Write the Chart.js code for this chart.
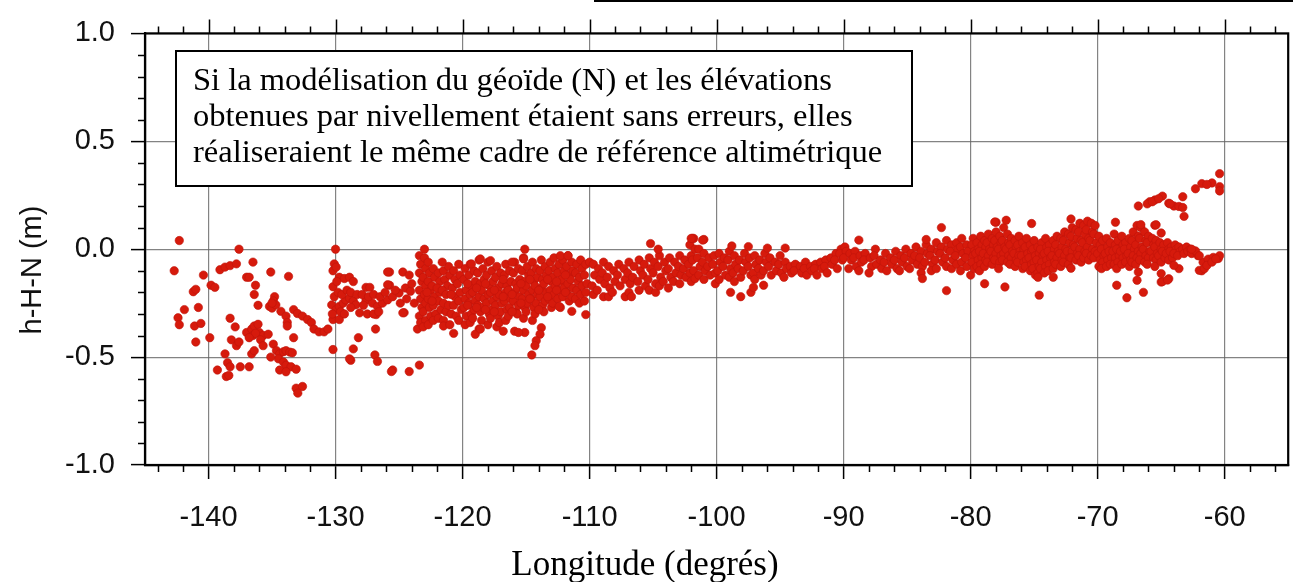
<!DOCTYPE html>
<html><head><meta charset="utf-8">
<script src="https://cdn.jsdelivr.net/npm/chart.js@4.4.1/dist/chart.umd.min.js"></script>
<style>html,body{margin:0;padding:0;background:#fff;overflow:hidden}canvas{display:block}</style>
</head><body>
<canvas id="c" width="1293" height="582"></canvas>
<script>
// ---------- tick labels ----------
const xTickValues = [-140,-130,-120,-110,-100,-90,-80,-70,-60];
const yTickValues = [-1.0,-0.5,0.0,0.5,1.0];
const annotationLines = [
  "Si la modélisation du géoïde (N) et les élévations",
  "obtenues par nivellement étaient sans erreurs, elles",
  "réaliseraient le même cadre de référence altimétrique"
];
const xTitle = "Longitude (degrés)";
const yTitle = "h-H-N (m)";

// ---------- data: [longitude, h-H-N] ----------
const westPoints = [
[-142.3,0.04],[-142.7,-0.10],[-137.6,0.0],[-140.4,-0.12],[-139.1,-0.095],[-138.7,-0.083],[-138.3,-0.076],[-137.8,-0.068],
[-136.5,-0.06],[-137.0,-0.13],[-136.8,-0.13],[-136.3,-0.167],[-136.4,-0.21],[-136.1,-0.26],[-139.8,-0.167],[-139.5,-0.177],
[-141.2,-0.197],[-141.0,-0.186],[-141.9,-0.28],[-140.8,-0.27],[-142.4,-0.318],[-142.3,-0.35],[-141.1,-0.356],[-140.6,-0.344],
[-141.0,-0.43],[-139.9,-0.41],[-138.3,-0.32],[-137.9,-0.36],[-138.2,-0.42],[-137.8,-0.447],[-137.6,-0.43],[-137.0,-0.386],
[-136.6,-0.37],[-136.4,-0.356],[-136.1,-0.348],[-136.5,-0.40],[-136.0,-0.386],[-135.7,-0.40],[-135.3,-0.394],[-136.3,-0.39],
[-136.8,-0.41],[-135.9,-0.42],[-136.6,-0.485],[-136.4,-0.47],[-135.7,-0.447],[-138.7,-0.485],[-138.5,-0.526],[-138.3,-0.545],
[-139.3,-0.56],[-138.6,-0.59],[-138.4,-0.585],[-137.5,-0.545],[-136.8,-0.545],[-135.1,-0.106],[-133.7,-0.126],[-134.8,-0.22],
[-134.9,-0.24],[-135.2,-0.265],[-135.0,-0.273],[-134.7,-0.258],[-135.0,-0.25],[-134.3,-0.288],[-133.9,-0.31],[-133.8,-0.34],
[-133.8,-0.356],[-133.3,-0.28],[-133.0,-0.298],[-132.6,-0.31],[-132.2,-0.326],[-131.9,-0.34],[-131.7,-0.37],[-131.3,-0.383],
[-130.9,-0.383],[-130.6,-0.37],[-133.3,-0.41],[-134.9,-0.44],[-134.65,-0.47],[-134.4,-0.485],[-134.1,-0.475],[-133.9,-0.47],
[-133.6,-0.477],[-133.4,-0.48],[-134.5,-0.508],[-134.1,-0.523],[-133.9,-0.538],[-133.5,-0.545],[-133.1,-0.556],[-134.4,-0.56],
[-133.9,-0.568],[-135.1,-0.50],[-133.1,-0.644],[-132.6,-0.636],[-132.97,-0.667],
[-130.0,0.0],[-130.1,-0.068],[-130.2,-0.10],[-129.95,-0.083],[-129.7,-0.13],[-129.3,-0.136],[-128.9,-0.13],[-128.6,-0.15],
[-130.2,-0.174],[-130.1,-0.22],[-130.3,-0.258],[-129.95,-0.28],[-129.7,-0.265],[-129.4,-0.25],[-129.2,-0.235],[-128.9,-0.227],
[-128.6,-0.24],[-128.4,-0.258],[-128.1,-0.295],[-130.2,-0.326],[-129.7,-0.326],[-130.2,-0.465],[-128.2,-0.41],[-128.6,-0.462],
[-128.8,-0.515],[-128.9,-0.508],[-127.6,-0.177],[-127.3,-0.177],[-127.6,-0.235],[-127.1,-0.25],[-126.7,-0.265],[-126.3,-0.25],
[-125.9,-0.235],[-125.5,-0.22],[-126.8,-0.303],[-126.85,-0.37],[-125.75,-0.106],[-125.75,-0.167],[-126.9,-0.49],[-126.7,-0.52],
[-125.5,-0.56],[-125.6,-0.567],[-124.2,-0.567],[-123.4,-0.537],[-123.55,-0.37],[-124.6,-0.294],[-124.5,-0.18],[-124.1,-0.195],
[-125.0,-0.203],[-125.9,-0.165],[-125.9,-0.106],[-124.7,-0.106],[-124.2,-0.12],[-124.7,-0.295],
[-129.8,-0.20],[-129.5,-0.21],[-129.1,-0.19],[-128.8,-0.20],[-129.6,-0.29],[-129.3,-0.30],[-128.8,-0.27],[-128.3,-0.21],
[-129.9,-0.15],[-130.25,-0.30],[-127.9,-0.21],[-127.8,-0.26],[-127.4,-0.22],[-127.0,-0.21],[-126.5,-0.22],[-126.1,-0.20],
[-125.3,-0.19],[-124.9,-0.25],[-124.4,-0.23],[-124.0,-0.16],[-123.8,-0.25],[-127.5,-0.30],[-127.0,-0.30],[-126.6,-0.29]
];

const centralPoints = [
// -123.5 .. -120
[-123.4,-0.03],[-123.3,-0.07],[-123.4,-0.11],[-123.2,-0.15],[-123.4,-0.19],[-123.3,-0.23],[-123.2,-0.27],[-123.4,-0.31],[-123.3,-0.34],
[-123.0,0.0],[-123.0,-0.04],[-122.9,-0.09],[-123.1,-0.13],[-122.9,-0.17],[-123.0,-0.21],[-122.9,-0.25],[-123.1,-0.29],[-122.9,-0.33],[-123.1,-0.36],
[-122.7,-0.06],[-122.6,-0.11],[-122.7,-0.15],[-122.5,-0.19],[-122.7,-0.23],[-122.6,-0.27],[-122.5,-0.31],[-122.7,-0.35],
[-122.3,-0.09],[-122.2,-0.13],[-122.4,-0.17],[-122.2,-0.22],[-122.3,-0.26],[-122.1,-0.30],[-122.3,-0.33],
[-121.9,-0.11],[-121.8,-0.15],[-121.8,-0.20],[-121.9,-0.24],[-121.7,-0.28],[-121.9,-0.32],
[-121.5,-0.10],[-121.4,-0.14],[-121.5,-0.25],[-121.3,-0.29],[-121.5,-0.33],[-121.5,-0.356],
[-121.1,-0.08],[-121.0,-0.12],[-121.2,-0.17],[-121.1,-0.26],[-120.9,-0.30],[-121.0,-0.35],
[-120.7,-0.10],[-120.6,-0.14],[-120.8,-0.18],[-120.6,-0.22],[-120.7,-0.26],[-120.5,-0.31],[-120.7,-0.39],
[-120.3,-0.07],[-120.2,-0.12],[-120.4,-0.16],[-120.2,-0.20],[-120.3,-0.24],[-120.1,-0.28],[-120.3,-0.33],
[-122.0,-0.18],[-121.6,-0.19],[-121.3,-0.21],[-120.9,-0.21],[-121.6,-0.06],[-122.8,-0.20],[-122.4,-0.24],
// -120 .. -110
[-119.8,-0.09],[-119.9,-0.14],[-119.7,-0.19],[-119.8,-0.23],[-119.9,-0.27],[-119.7,-0.31],[-119.8,-0.35],
[-119.4,-0.07],[-119.5,-0.12],[-119.3,-0.17],[-119.4,-0.21],[-119.5,-0.25],[-119.3,-0.30],[-119.4,-0.34],
[-119.1,-0.10],[-119.0,-0.15],[-119.2,-0.20],[-119.0,-0.24],[-119.1,-0.28],[-119.2,-0.32],
[-118.7,-0.05],[-118.8,-0.11],[-118.6,-0.16],[-118.7,-0.22],[-118.8,-0.26],[-118.6,-0.29],[-118.7,-0.37],
[-118.4,-0.09],[-118.3,-0.14],[-118.5,-0.19],[-118.3,-0.23],[-118.4,-0.27],[-118.5,-0.33],
[-118.0,-0.06],[-118.1,-0.12],[-117.9,-0.17],[-118.0,-0.21],[-118.1,-0.25],[-117.9,-0.30],[-118.0,-0.35],
[-117.7,-0.10],[-117.6,-0.15],[-117.8,-0.20],[-117.6,-0.24],[-117.7,-0.28],[-117.8,-0.32],
[-117.3,-0.08],[-117.4,-0.13],[-117.2,-0.18],[-117.3,-0.22],[-117.4,-0.26],[-117.2,-0.31],[-117.3,-0.36],
[-117.0,-0.11],[-116.9,-0.16],[-117.1,-0.21],[-116.9,-0.25],[-117.0,-0.29],[-117.1,-0.34],
[-116.6,-0.07],[-116.7,-0.12],[-116.5,-0.17],[-116.6,-0.20],[-116.7,-0.24],[-116.5,-0.28],[-116.6,-0.33],
[-116.3,-0.10],[-116.2,-0.15],[-116.4,-0.19],[-116.2,-0.23],[-116.3,-0.27],[-116.4,-0.31],
[-115.9,-0.06],[-116.0,-0.11],[-115.8,-0.16],[-115.9,-0.20],[-116.0,-0.24],[-115.8,-0.29],[-115.9,-0.38],
[-115.6,-0.09],[-115.5,-0.14],[-115.7,-0.18],[-115.5,-0.22],[-115.6,-0.26],[-115.7,-0.30],
[-115.2,-0.04],[-115.3,-0.10],[-115.1,-0.15],[-115.2,-0.19],[-115.3,-0.23],[-115.1,-0.27],[-115.2,-0.32],
[-114.9,-0.08],[-114.8,-0.12],[-115.0,-0.17],[-114.8,-0.21],[-114.9,-0.25],[-115.0,-0.29],
[-114.5,-0.06],[-114.6,-0.11],[-114.4,-0.15],[-114.5,-0.19],[-114.6,-0.23],[-114.4,-0.27],[-114.5,-0.33],
[-114.2,-0.09],[-114.1,-0.13],[-114.3,-0.17],[-114.1,-0.21],[-114.2,-0.25],[-114.3,-0.30],
[-113.8,-0.05],[-113.9,-0.10],[-113.7,-0.14],[-113.8,-0.18],[-113.9,-0.22],[-113.7,-0.26],
[-113.5,-0.08],[-113.4,-0.12],[-113.6,-0.16],[-113.4,-0.20],[-113.5,-0.24],[-113.6,-0.29],
[-113.1,-0.06],[-113.2,-0.10],[-113.0,-0.15],[-113.1,-0.19],[-113.2,-0.23],[-113.0,-0.27],
[-112.8,-0.04],[-112.7,-0.09],[-112.9,-0.13],[-112.7,-0.17],[-112.8,-0.21],[-112.9,-0.25],
[-112.4,-0.07],[-112.5,-0.11],[-112.3,-0.15],[-112.4,-0.19],[-112.5,-0.23],[-112.3,-0.27],
[-112.1,-0.05],[-112.0,-0.10],[-112.2,-0.14],[-112.0,-0.18],[-112.1,-0.22],
[-111.7,-0.03],[-111.8,-0.08],[-111.6,-0.12],[-111.7,-0.16],[-111.8,-0.20],[-111.6,-0.24],
[-111.4,-0.06],[-111.3,-0.10],[-111.5,-0.14],[-111.3,-0.18],[-111.4,-0.22],
[-111.0,-0.07],[-111.1,-0.11],[-110.9,-0.15],[-111.0,-0.19],[-111.1,-0.23],
[-110.7,-0.05],[-110.6,-0.09],[-110.8,-0.13],[-110.6,-0.17],[-110.7,-0.21],[-110.8,-0.25],
[-110.3,-0.07],[-110.4,-0.12],[-110.2,-0.16],[-110.3,-0.20],[-110.4,-0.24],
[-119.6,-0.16],[-119.6,-0.26],[-118.9,-0.18],[-118.9,-0.27],[-118.2,-0.16],[-118.2,-0.28],[-117.5,-0.19],[-117.5,-0.29],
[-116.8,-0.22],[-116.8,-0.14],[-116.1,-0.21],[-116.1,-0.29],[-115.4,-0.16],[-115.4,-0.25],[-114.7,-0.14],[-114.7,-0.23],
[-114.0,-0.19],[-114.0,-0.28],[-113.3,-0.14],[-113.3,-0.22],[-112.6,-0.19],[-112.6,-0.15],[-111.9,-0.12],[-111.9,-0.20],
[-119.0,-0.394],[-118.6,-0.37],[-115.1,0.0],[-115.2,-0.045],[-118.6,-0.045],[-117.8,-0.053],[-119.3,-0.068],[-116.1,-0.06],
[-113.8,-0.364],[-113.9,-0.394],[-114.2,-0.424],[-114.3,-0.447],[-114.55,-0.49],[-115.1,-0.386],[-115.6,-0.386],[-116.8,-0.38],
[-112.3,-0.03],[-111.7,-0.03],[-110.3,-0.303],[-111.4,-0.288],[-112.4,-0.265],[-110.0,-0.06],
// -110 .. -100
[-109.7,-0.07],[-109.6,-0.12],[-109.8,-0.17],[-109.7,-0.21],
[-109.3,-0.09],[-109.2,-0.14],[-109.4,-0.19],
[-108.9,-0.06],[-109.0,-0.11],[-108.8,-0.16],[-108.9,-0.22],
[-108.5,-0.08],[-108.6,-0.13],[-108.4,-0.18],[-108.5,-0.22],
[-108.1,-0.10],[-108.0,-0.15],[-108.2,-0.20],
[-107.7,-0.07],[-107.8,-0.12],[-107.6,-0.17],
[-107.3,-0.09],[-107.2,-0.14],[-107.2,-0.22],
[-106.9,-0.06],[-107.0,-0.11],[-106.8,-0.16],[-106.9,-0.20],
[-106.5,-0.08],[-106.6,-0.13],[-106.7,-0.22],
[-106.1,-0.05],[-106.0,-0.10],[-106.2,-0.15],[-106.1,-0.19],
[-105.7,-0.07],[-105.8,-0.12],[-105.6,-0.17],
[-105.3,-0.04],[-105.2,-0.09],[-105.4,-0.14],[-105.3,-0.19],
[-104.9,-0.06],[-105.0,-0.11],[-104.8,-0.16],[-104.8,-0.20],
[-104.5,-0.03],[-104.6,-0.08],[-104.4,-0.13],[-104.5,-0.17],
[-104.1,-0.06],[-104.0,-0.10],[-104.2,-0.15],
[-103.7,-0.04],[-103.8,-0.09],[-103.6,-0.13],[-103.8,-0.18],
[-103.3,-0.06],[-103.2,-0.11],[-103.4,-0.15],
[-102.9,-0.03],[-103.0,-0.08],[-102.8,-0.12],[-102.9,-0.16],
[-102.5,-0.05],[-102.6,-0.09],[-102.4,-0.13],
[-102.1,0.02],[-102.0,-0.03],[-102.2,-0.07],[-102.1,-0.11],[-102.0,-0.15],
[-101.8,0.05],[-101.7,0.0],[-101.9,-0.05],[-101.8,-0.10],[-101.7,-0.136],
[-101.4,0.0],[-101.5,-0.04],[-101.3,-0.08],[-101.4,-0.12],
[-101.0,-0.02],[-101.1,-0.06],[-100.9,-0.10],[-101.0,-0.14],
[-100.6,-0.04],[-100.7,-0.08],[-100.5,-0.12],[-100.1,-0.16],
[-100.2,-0.03],[-100.3,-0.07],[-100.1,-0.11],
[-105.2,0.026],[-104.6,0.0],[-101.9,0.05],[-101.0,0.045],[-102.0,0.05],[-101.1,0.042],
// -100 .. -90
[-99.8,-0.02],[-99.7,-0.06],[-99.9,-0.10],[-99.8,-0.14],
[-99.4,-0.04],[-99.5,-0.08],[-99.3,-0.12],
[-99.0,-0.01],[-99.1,-0.05],[-98.9,-0.09],[-99.0,-0.13],
[-98.6,-0.03],[-98.5,-0.07],[-98.7,-0.11],[-98.6,-0.15],
[-98.2,-0.05],[-98.3,-0.09],[-98.1,-0.13],
[-97.8,-0.02],[-97.7,-0.06],[-97.9,-0.10],
[-97.4,-0.04],[-97.5,-0.08],[-97.3,-0.12],
[-97.0,-0.03],[-96.9,-0.07],[-97.1,-0.11],[-97.0,-0.14],
[-96.6,-0.05],[-96.7,-0.09],[-96.5,-0.12],
[-96.2,-0.02],[-96.1,-0.06],[-96.3,-0.10],
[-95.8,-0.04],[-95.9,-0.08],[-95.7,-0.12],
[-95.4,-0.06],[-95.3,-0.10],
[-95.0,-0.03],[-95.1,-0.07],[-94.9,-0.11],
[-94.6,-0.06],[-94.5,-0.09],[-94.7,-0.13],
[-94.2,-0.08],[-94.1,-0.11],
[-93.8,-0.07],[-93.9,-0.10],
[-93.4,-0.08],[-93.3,-0.11],
[-93.0,-0.06],[-93.1,-0.09],[-92.9,-0.12],
[-92.6,-0.08],[-92.5,-0.10],
[-92.2,-0.07],[-92.3,-0.09],[-92.1,-0.12],
[-91.8,-0.06],[-91.7,-0.09],
[-91.4,-0.05],[-91.5,-0.08],[-91.3,-0.11],
[-91.0,-0.04],[-90.9,-0.07],
[-90.6,-0.02],[-90.7,-0.05],[-90.5,-0.09],
[-90.2,0.0],[-90.3,-0.02],[-90.1,-0.05],
[-89.9,0.01],[-89.8,-0.01],[-90.0,-0.04],
[-98.8,0.015],[-97.5,0.012],[-96.0,0.005],[-94.6,0.005],[-98.9,-0.20],[-97.3,-0.20],[-97.1,-0.177],[-96.3,-0.167],[-98.1,-0.22]
];

const eastPoints = [
// -90 .. -80
[-89.5,-0.02],[-89.4,-0.05],[-89.6,-0.09],
[-89.1,-0.01],[-89.2,-0.04],[-89.0,-0.08],
[-88.7,-0.03],[-88.6,-0.06],[-88.8,-0.10],
[-88.3,-0.02],[-88.4,-0.05],
[-87.9,-0.04],[-87.8,-0.08],[-88.0,-0.11],
[-87.5,0.0],[-87.6,-0.03],[-87.4,-0.07],
[-87.1,-0.05],[-87.0,-0.09],
[-86.7,-0.02],[-86.8,-0.06],[-86.6,-0.10],
[-86.3,-0.04],[-86.2,-0.07],
[-85.9,-0.01],[-86.0,-0.05],[-85.8,-0.09],
[-85.5,-0.03],[-85.4,-0.06],[-85.6,-0.10],
[-85.1,0.0],[-85.2,-0.04],[-85.0,-0.08],
[-84.7,-0.02],[-84.6,-0.05],[-84.8,-0.09],
[-84.3,0.01],[-84.4,-0.03],[-84.2,-0.07],
[-83.9,-0.01],[-84.0,-0.04],[-83.8,-0.08],[-83.9,-0.11],
[-83.5,0.02],[-83.4,-0.02],[-83.6,-0.06],
[-83.1,0.0],[-83.2,-0.03],[-83.0,-0.07],[-83.1,-0.10],
[-82.7,0.03],[-82.6,-0.01],[-82.8,-0.05],[-82.7,-0.09],
[-82.3,0.01],[-82.4,-0.02],[-82.2,-0.06],
[-81.9,0.04],[-81.8,0.0],[-82.0,-0.04],[-81.9,-0.08],
[-81.5,0.02],[-81.6,-0.01],[-81.4,-0.05],[-81.5,-0.09],
[-81.1,0.03],[-81.0,0.0],[-81.2,-0.03],[-81.1,-0.07],
[-80.7,0.05],[-80.8,0.01],[-80.6,-0.02],[-80.7,-0.06],[-80.8,-0.10],
[-80.3,0.02],[-80.2,-0.01],[-80.4,-0.04],[-80.3,-0.08],
[-88.8,0.042],[-82.3,0.10],[-83.8,-0.136],[-81.9,-0.192],[-83.5,0.045],[-80.0,-0.12],
// -80 .. -70
[-79.8,0.05],[-79.9,0.02],[-79.7,-0.01],[-79.8,-0.03],[-79.9,-0.06],[-79.7,-0.09],
[-79.5,0.03],[-79.4,0.0],[-79.6,-0.02],[-79.4,-0.05],[-79.5,-0.08],
[-79.2,0.06],[-79.1,0.02],[-79.3,-0.01],[-79.1,-0.04],[-79.2,-0.07],[-79.3,-0.10],
[-78.9,0.04],[-78.8,0.01],[-79.0,-0.02],[-78.8,-0.05],[-78.9,-0.08],
[-78.6,0.07],[-78.7,0.03],[-78.5,0.0],[-78.6,-0.03],[-78.7,-0.06],
[-78.3,0.05],[-78.2,0.02],[-78.4,-0.01],[-78.2,-0.04],[-78.3,-0.07],
[-78.0,0.08],[-78.1,0.04],[-77.9,0.01],[-78.0,-0.02],[-78.1,-0.05],
[-77.7,0.06],[-77.6,0.03],[-77.8,0.0],[-77.6,-0.03],[-77.7,-0.06],[-77.8,-0.09],
[-77.4,0.10],[-77.5,0.04],[-77.3,0.01],[-77.4,-0.02],[-77.5,-0.05],
[-77.1,0.07],[-77.0,0.03],[-77.2,0.0],[-77.0,-0.03],[-77.1,-0.06],
[-76.8,0.05],[-76.9,0.02],[-76.7,-0.01],[-76.8,-0.04],[-76.9,-0.07],
[-76.5,0.04],[-76.4,0.01],[-76.6,-0.02],[-76.4,-0.05],[-76.5,-0.08],
[-76.2,0.06],[-76.3,0.02],[-76.1,-0.01],[-76.2,-0.03],[-76.3,-0.06],
[-75.9,0.03],[-75.8,0.0],[-76.0,-0.03],[-75.8,-0.06],[-75.9,-0.09],
[-75.6,0.05],[-75.7,0.01],[-75.5,-0.02],[-75.6,-0.05],[-75.7,-0.08],
[-75.3,0.02],[-75.2,-0.01],[-75.4,-0.04],[-75.2,-0.07],[-75.3,-0.10],
[-75.0,0.04],[-75.1,0.0],[-74.9,-0.03],[-75.0,-0.06],[-75.1,-0.09],[-74.9,-0.12],
[-74.7,0.01],[-74.6,-0.02],[-74.8,-0.05],[-74.6,-0.08],[-74.7,-0.11],
[-74.4,0.03],[-74.5,0.0],[-74.3,-0.03],[-74.4,-0.06],[-74.5,-0.09],
[-74.1,0.05],[-74.0,0.01],[-74.2,-0.02],[-74.0,-0.05],[-74.1,-0.08],[-74.2,-0.11],
[-73.8,0.02],[-73.9,-0.01],[-73.7,-0.04],[-73.8,-0.07],[-73.9,-0.10],
[-73.5,0.04],[-73.4,0.0],[-73.6,-0.03],[-73.4,-0.06],[-73.5,-0.09],
[-73.2,0.06],[-73.3,0.02],[-73.1,-0.01],[-73.2,-0.04],[-73.3,-0.07],
[-72.9,0.05],[-72.8,0.01],[-73.0,-0.02],[-72.8,-0.05],[-72.9,-0.08],
[-72.6,0.08],[-72.7,0.04],[-72.5,0.0],[-72.6,-0.03],[-72.7,-0.06],
[-72.3,0.07],[-72.2,0.03],[-72.4,-0.01],[-72.2,-0.04],[-72.3,-0.07],
[-72.0,0.10],[-72.1,0.06],[-71.9,0.02],[-72.0,-0.01],[-72.1,-0.04],
[-71.7,0.09],[-71.6,0.05],[-71.8,0.01],[-71.6,-0.02],[-71.7,-0.05],
[-71.4,0.12],[-71.5,0.08],[-71.3,0.04],[-71.4,0.0],[-71.5,-0.03],[-71.3,-0.06],
[-71.1,0.11],[-71.0,0.07],[-71.2,0.03],[-71.0,-0.01],[-71.1,-0.04],
[-70.8,0.13],[-70.9,0.09],[-70.7,0.05],[-70.8,0.01],[-70.9,-0.02],[-70.7,-0.05],
[-70.5,0.12],[-70.4,0.08],[-70.6,0.04],[-70.4,0.0],[-70.5,-0.03],
[-70.2,0.11],[-70.3,0.07],[-70.1,0.03],[-70.2,-0.01],[-70.3,-0.04],
[-78.9,-0.16],[-77.3,-0.175],[-74.6,-0.213],[-72.1,0.14],[-78.0,0.125],[-77.2,0.134],[-75.2,0.119],[-73.5,-0.13],
[-74.7,-0.13],[-72.1,-0.088],[-78.1,0.126],
// -70 .. -62
[-69.9,0.06],[-69.8,0.02],[-70.0,-0.02],[-69.8,-0.05],[-69.9,-0.08],
[-69.6,0.04],[-69.7,0.0],[-69.5,-0.03],[-69.6,-0.06],[-69.7,-0.09],
[-69.3,0.05],[-69.2,0.01],[-69.4,-0.02],[-69.2,-0.05],[-69.3,-0.08],
[-69.0,0.03],[-69.1,-0.01],[-68.9,-0.04],[-69.0,-0.07],
[-68.7,0.07],[-68.6,0.02],[-68.8,-0.01],[-68.6,-0.04],[-68.7,-0.07],
[-68.4,0.04],[-68.5,0.0],[-68.3,-0.03],[-68.4,-0.06],[-68.5,-0.09],
[-68.1,0.06],[-68.0,0.02],[-68.2,-0.01],[-68.0,-0.04],[-68.1,-0.07],
[-67.8,0.03],[-67.9,0.0],[-67.7,-0.03],[-67.8,-0.06],
[-67.5,0.05],[-67.4,0.01],[-67.6,-0.02],[-67.4,-0.05],[-67.5,-0.08],
[-67.2,0.08],[-67.3,0.04],[-67.1,0.0],[-67.2,-0.03],[-67.3,-0.06],
[-66.9,0.11],[-66.8,0.06],[-67.0,0.02],[-66.8,-0.01],[-66.9,-0.04],[-67.0,-0.07],
[-66.6,0.10],[-66.7,0.05],[-66.5,0.01],[-66.6,-0.02],[-66.7,-0.05],
[-66.3,0.08],[-66.2,0.04],[-66.4,0.0],[-66.2,-0.03],[-66.3,-0.06],
[-66.0,0.06],[-66.1,0.03],[-65.9,-0.01],[-66.0,-0.04],[-66.1,-0.07],
[-65.7,0.05],[-65.6,0.02],[-65.8,-0.01],[-65.6,-0.04],
[-65.4,0.04],[-65.5,0.01],[-65.3,-0.02],[-65.4,-0.05],[-65.5,-0.08],
[-65.1,0.03],[-65.0,0.0],[-65.2,-0.03],[-65.0,-0.06],
[-64.8,0.02],[-64.9,-0.01],[-64.7,-0.04],
[-64.5,0.03],[-64.4,0.0],[-64.6,-0.02],[-64.4,-0.05],
[-64.2,0.01],[-64.3,-0.01],[-64.1,-0.04],
[-63.9,0.02],[-63.8,0.0],[-64.0,-0.02],
[-63.6,0.01],[-63.5,-0.01],[-63.7,-0.03],
[-63.3,0.0],[-63.2,-0.02],
[-63.0,0.01],[-62.9,-0.01],
[-62.7,0.0],[-62.6,-0.02],
[-66.8,0.20],[-65.9,0.22],[-65.5,0.228],[-64.9,0.246],[-64.4,0.213],[-64.0,0.20],[-63.6,0.198],[-63.3,0.193],
[-63.2,0.152],[-63.3,0.243],[-62.3,0.28],[-61.8,0.304],[-61.0,0.307],[-60.4,0.35],[-60.4,0.29],[-60.4,0.27],
[-61.4,0.30],[-66.1,0.21],[-65.7,0.22],[-65.2,0.234],[-64.3,0.21],
[-62.1,-0.03],[-61.7,-0.06],[-61.3,-0.046],[-60.9,-0.038],[-60.5,-0.043],[-60.4,-0.03],[-61.8,-0.10],[-62.0,-0.098],
[-61.6,-0.09],[-61.4,-0.075],[-61.0,-0.06],[-60.7,-0.045],[-62.3,-0.008],[-62.0,-0.03],[-62.6,0.0],
[-68.5,-0.167],[-67.7,-0.225],[-66.4,-0.20],[-68.6,0.125],[-66.6,0.114],[-65.5,0.111],[-65.0,-0.152],[-64.4,-0.137],
[-66.9,-0.144],[-66.8,-0.106],[-64.9,-0.15],[-64.5,-0.143],[-65.0,-0.113],[-63.6,-0.09],[-64.0,-0.075],[-65.4,0.113],[-65.0,0.075]
];

const allPoints = westPoints.concat(centralPoints, eastPoints).map(p => ({x: p[0], y: p[1]}));

const decorPlugin = {
  id: 'decor',
  afterDraw(chart) {
    const {ctx, chartArea: a, scales: {x, y}} = chart;
    ctx.save();
    ctx.strokeStyle = '#000';
    ctx.lineWidth = 1.5;
    ctx.beginPath();
    for (let v = -144; v <= -56; v += 2) {
      if (v % 10 === 0) continue;
      const px = Math.round(x.getPixelForValue(v)) + 0.5;
      ctx.moveTo(px, a.bottom); ctx.lineTo(px, a.bottom + 7);
      ctx.moveTo(px, a.top); ctx.lineTo(px, a.top - 7);
    }
    xTickValues.forEach(v => {
      const px = Math.round(x.getPixelForValue(v)) + 0.5;
      ctx.moveTo(px, a.top); ctx.lineTo(px, a.top - 14);
    });
    for (let i = -9; i <= 9; i++) {
      if (i % 5 === 0) continue;
      const py = Math.round(y.getPixelForValue(i / 10)) + 0.5;
      ctx.moveTo(a.left - 7, py); ctx.lineTo(a.left, py);
    }
    ctx.stroke();
    // frame
    ctx.lineWidth = 2.2;
    ctx.strokeRect(a.left, a.top, a.right - a.left, a.bottom - a.top);
    // partial line of the box above (cut at the top)
    ctx.beginPath(); ctx.moveTo(594, 1); ctx.lineTo(1293, 1); ctx.stroke();
    // annotation box
    ctx.fillStyle = '#fff';
    ctx.fillRect(176, 51, 736, 135);
    ctx.lineWidth = 2;
    ctx.strokeRect(176, 51, 736, 135);
    ctx.fillStyle = '#000';
    ctx.font = '32.5px "Liberation Serif", "Times New Roman", serif';
    ctx.textAlign = 'left';
    ctx.textBaseline = 'alphabetic';
    const baselines = [90, 126, 162];
    annotationLines.forEach((t, i) => ctx.fillText(t, 193, baselines[i]));
    // axis titles
    ctx.font = '35px "Liberation Serif", "Times New Roman", serif';
    ctx.textAlign = 'center';
    ctx.fillText(xTitle, 645, 575);
    ctx.translate(33, 270);
    ctx.rotate(-Math.PI / 2);
    ctx.font = '29px "Liberation Sans", Arial, sans-serif';
    ctx.textBaseline = 'middle';
    ctx.fillStyle = '#111';
    ctx.fillText(yTitle, 0, 0);
    ctx.restore();
  }
};

new Chart(document.getElementById('c'), {
  type: 'scatter',
  data: {
    datasets: [{
      data: allPoints,
      pointRadius: 4.2,
      pointHoverRadius: 4.2,
      pointBackgroundColor: '#d61a0c',
      pointBorderColor: '#c0140a',
      pointBorderWidth: 0.6
    }]
  },
  options: {
    responsive: false,
    animation: false,
    devicePixelRatio: 1,
    layout: {padding: {left: 0, top: 26, right: 1, bottom: 0}},
    plugins: {legend: {display: false}, tooltip: {enabled: false}},
    scales: {
      x: {
        type: 'linear', min: -145, max: -55,
        afterBuildTicks: s => { s.ticks = xTickValues.map(v => ({value: v})); },
        afterFit: s => { s.height = 117; },
        grid: {color: 'rgba(100,100,100,0.8)', lineWidth: 1.2, tickColor: '#000', tickLength: 14, tickWidth: 1.5},
        border: {color: '#000', width: 2.2},
        ticks: {
          autoSkip: false, maxRotation: 0, padding: 22, color: '#111',
          font: {family: '"Liberation Sans", Arial, sans-serif', size: 29},
          callback: v => String(v)
        }
      },
      y: {
        type: 'linear', min: -1, max: 1,
        afterBuildTicks: s => { s.ticks = yTickValues.map(v => ({value: v})); },
        afterFit: s => { s.width = 145; },
        grid: {color: 'rgba(100,100,100,0.8)', lineWidth: 1.2, tickColor: '#000', tickLength: 14, tickWidth: 1.5},
        border: {color: '#000', width: 2.2},
        ticks: {
          padding: 16, color: '#111',
          font: {family: '"Liberation Sans", Arial, sans-serif', size: 29},
          callback: v => Number(v).toFixed(1)
        }
      }
    }
  },
  plugins: [decorPlugin]
});
</script>
</body></html>
